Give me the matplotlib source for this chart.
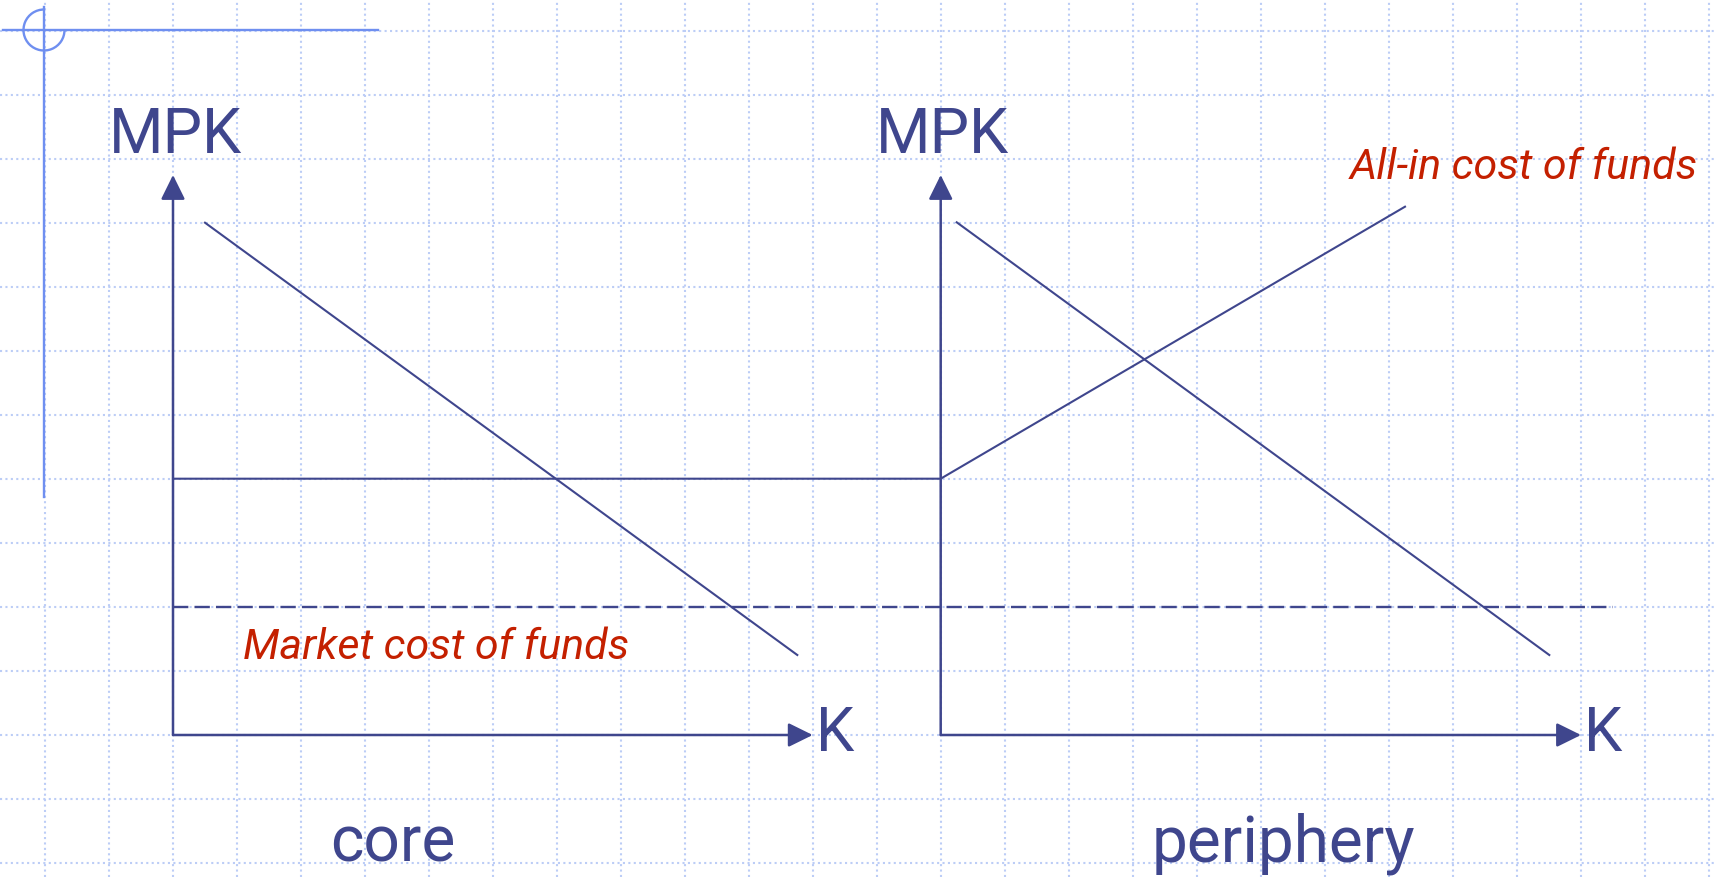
import matplotlib
matplotlib.use("Agg")
import matplotlib.pyplot as plt
from matplotlib.patches import FancyArrowPatch, Arc, ArrowStyle
import numpy as np

# ---------------- data (diagram coordinates, y grows downward) ----------------
panel_names = ["core", "periphery"]
yaxis_x = [173.0, 940.7]          # position of each panel's vertical (MPK) axis
axis_base_y = 735.0               # K axis level
yaxis_tip_y = 175.0
xaxis_tip_x = [812.7, 1581.0]

mpk_x = [[205.0, 797.3], [956.7, 1549.3]]   # downward sloping MPK lines
mpk_y = [[222.7, 655.0], [222.3, 655.0]]

allin_x = [173.0, 940.7, 1405.0]            # all-in cost of funds (flat, then rising)
allin_y = [478.7, 478.7, 206.7]

market_x = [173.0, 1613.0]                  # market cost of funds (dashed)
market_y = [606.7, 606.7]

axis_label_y = "MPK"
axis_label_x = "K"
label_market = "Market cost of funds"
label_allin = "All-in cost of funds"

# ---------------- style ----------------
BLUE = "#3f468d"
RED = "#c42000"
GRID = "#bccdf6"
LOGO = "#6f8ff0"
FONT = "Roboto"

W, H = 1715, 877
fig = plt.figure(figsize=(W / 100, H / 100), dpi=100)
ax = fig.add_axes([0, 0, 1, 1])
ax.set_xlim(0, W)
ax.set_ylim(H, 0)
ax.axis("off")

# background dotted grid
for gx in np.arange(44.7, W, 64.0):
    ax.axvline(gx, color=GRID, lw=1.5, ls=(0, (1.0, 1.6)), zorder=0)
for gy in np.arange(30.5, H, 64.0):
    ax.axhline(gy, color=GRID, lw=1.5, ls=(0, (1.0, 1.6)), zorder=0)

# slide logo (crosshair)
ax.plot([44, 44], [7, 497], color=LOGO, lw=1.7, zorder=1)
ax.plot([3, 378], [30, 30], color=LOGO, lw=1.7, zorder=1)
ax.add_patch(Arc((44, 30), 41, 41, theta1=0, theta2=270, color=LOGO, lw=1.7, zorder=1))

style = ArrowStyle("-|>", head_length=15, head_width=7.4)

for i, name in enumerate(panel_names):
    x0 = yaxis_x[i]
    # vertical axis
    ax.add_patch(FancyArrowPatch((x0, axis_base_y), (x0, yaxis_tip_y), arrowstyle=style,
                                 mutation_scale=1, color=BLUE, lw=1.8, shrinkA=0, shrinkB=0,
                                 zorder=3))
    # horizontal axis
    ax.add_patch(FancyArrowPatch((x0, axis_base_y), (xaxis_tip_x[i], axis_base_y), arrowstyle=style,
                                 mutation_scale=1, color=BLUE, lw=1.8, shrinkA=0, shrinkB=0,
                                 zorder=3))
    # MPK line
    ax.plot(mpk_x[i], mpk_y[i], color=BLUE, lw=1.5, zorder=3)
    # labels
    ax.text(x0 + 2, 152.7, axis_label_y, color=BLUE, fontsize=45, family=FONT,
            ha="center", va="baseline", zorder=4)
    ax.text(xaxis_tip_x[i] + 3, axis_base_y + 16, axis_label_x, color=BLUE, fontsize=44,
            family=FONT, ha="left", va="baseline", zorder=4)

# cost of funds lines
ax.plot(allin_x, allin_y, color=BLUE, lw=1.5, zorder=3, solid_joinstyle="miter")
ax.plot(market_x, market_y, color=BLUE, lw=1.7, ls=(0, (6.5, 2.6)), zorder=3)

ax.text(243, 659, label_market, color=RED, fontsize=31, family=FONT, style="italic",
        ha="left", va="baseline", zorder=4)
ax.text(1698, 179.3, label_allin, color=RED, fontsize=31, family=FONT, style="italic",
        ha="right", va="baseline", zorder=4)

# panel names
ax.text(393, 861.7, panel_names[0], color=BLUE, fontsize=46, family=FONT,
        ha="center", va="baseline", zorder=4)
ax.text(1283, 861.7, panel_names[1], color=BLUE, fontsize=46, family=FONT,
        ha="center", va="baseline", zorder=4)

fig.savefig("out.png", dpi=100, facecolor="white")
